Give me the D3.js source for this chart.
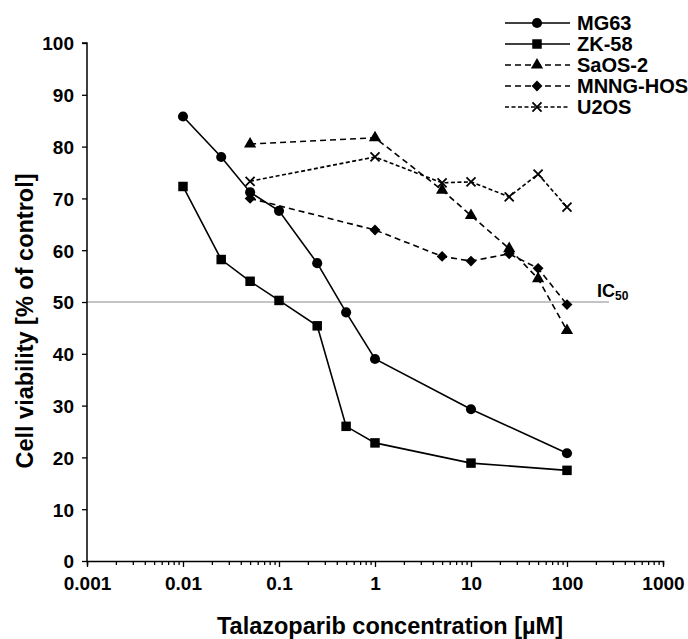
<!DOCTYPE html>
<html><head><meta charset="utf-8">
<script src="https://cdn.jsdelivr.net/npm/d3@7"></script>
<style>body{margin:0;background:#fff}svg{display:block;font-family:"Liberation Sans",Arial,sans-serif}</style>
</head><body><svg id="c" width="688" height="639"></svg>
<script>
const seriesNames = ["MG63","ZK-58","SaOS-2","MNNG-HOS","U2OS"];
const concMG63 = [0.01,0.025,0.05,0.1,0.25,0.5,1,10,100];
const valMG63  = [85.8,78.0,71.2,67.6,57.5,48.0,39.0,29.3,20.8];
const concZK58 = [0.01,0.025,0.05,0.1,0.25,0.5,1,10,100];
const valZK58  = [72.3,58.2,54.0,50.3,45.4,26.0,22.8,18.9,17.5];
const concSaOS2 = [0.05,1,5,10,25,50,100];
const valSaOS2  = [80.5,81.7,71.6,66.7,60.3,54.5,44.5];
const concMNNG = [0.05,1,5,10,25,50,100];
const valMNNG  = [70.0,63.9,58.8,57.9,59.3,56.5,49.5];
const concU2OS = [0.05,1,5,10,25,50,100];
const valU2OS  = [73.3,78.0,73.0,73.2,70.3,74.7,68.3];
const xTicks = [0.001,0.01,0.1,1,10,100,1000];
const xTickLabels = ["0.001","0.01","0.1","1","10","100","1000"];
const yTicks = [0,10,20,30,40,50,60,70,80,90,100];
const ic50 = 50;

const svg = d3.select("#c");
const x = d3.scaleLog().domain([0.001,1000]).range([87,663]);
const y = d3.scaleLinear().domain([0,100]).range([561,43]);

const diamond = {draw(ctx,size){const r=Math.sqrt(size)/2*1.4;ctx.moveTo(0,-r);ctx.lineTo(r,0);ctx.lineTo(0,r);ctx.lineTo(-r,0);ctx.closePath();}};
const series = [
  {name:"MG63", c:concMG63, v:valMG63, dash:null, sym:d3.symbolCircle, size:80},
  {name:"ZK-58", c:concZK58, v:valZK58, dash:null, sym:d3.symbolSquare, size:90},
  {name:"SaOS-2", c:concSaOS2, v:valSaOS2, dash:"6,4", sym:d3.symbolTriangle, size:65},
  {name:"MNNG-HOS", c:concMNNG, v:valMNNG, dash:"6,4", sym:diamond, size:60},
  {name:"U2OS", c:concU2OS, v:valU2OS, dash:"4,2.5", sym:d3.symbolTimes, size:55}
];

// IC50 line
svg.append("line").attr("x1",x(0.001)).attr("x2",609).attr("y1",y(ic50)).attr("y2",y(ic50))
  .attr("stroke","#b0b0b0").attr("stroke-width",1.5);
const ict = svg.append("text").attr("x",597).attr("y",y(ic50)-5).attr("font-weight","bold").attr("font-size",18).attr("fill","#000");
ict.append("tspan").text("IC");
ict.append("tspan").attr("font-size",12).attr("dy",3).text("50");

// Axes
const yAxis = d3.axisLeft(y).tickValues(yTicks).tickSize(5).tickPadding(8);
const gy = svg.append("g").attr("transform",`translate(${x(0.001)},0)`).call(yAxis);
const minor = [];
for (let e=-3;e<3;e++) for (let k=1;k<10;k++) minor.push(k*Math.pow(10,e));
minor.push(1000);
const xAxis = d3.axisBottom(x).tickValues(minor).tickSize(4)
  .tickFormat(d => { const i = xTicks.findIndex(t=>Math.abs(t-d)/t<1e-9); return i>=0?xTickLabels[i]:""; }).tickPadding(12);
const gx = svg.append("g").attr("transform",`translate(0,${y(0)})`).call(xAxis);
gx.selectAll(".tick line").attr("y2", d => xTicks.some(t=>Math.abs(t-d)/t<1e-9)?6:4);
[gx,gy].forEach(g=>{
  g.select(".domain").attr("stroke","#000").attr("stroke-width",1.5);
  g.selectAll(".tick line").attr("stroke","#000").attr("stroke-width",1.3);
  g.selectAll(".tick text").attr("font-family","Liberation Sans, Arial, sans-serif").attr("font-size",19).attr("font-weight","bold").attr("fill","#000");
});
gy.select(".domain").attr("d",`M-5,${y(100)}H0V${y(0)}`);
gy.selectAll(".tick text").attr("dy","0.36em");

// Axis titles
svg.append("text").attr("x",390).attr("y",634).attr("text-anchor","middle").attr("font-size",23.5).attr("font-weight","bold").text("Talazoparib concentration [µM]");
svg.append("text").attr("transform",`translate(33,321) rotate(-90)`).attr("text-anchor","middle").attr("font-size",23.5).attr("font-weight","bold").text("Cell viability [% of control]");

// Series
const line = d3.line().x(d=>x(d[0])).y(d=>y(d[1]));
series.forEach(s=>{
  const pts = s.c.map((c,i)=>[c,s.v[i]]);
  svg.append("path").attr("d",line(pts)).attr("fill","none").attr("stroke","#000").attr("stroke-width",1.6)
    .attr("stroke-dasharray",s.dash);
  const sym = d3.symbol().type(s.sym).size(s.size);
  svg.selectAll(null).data(pts).enter().append("path").attr("d",sym)
    .attr("transform",d=>`translate(${x(d[0])},${y(d[1])})`)
    .attr("fill", s.sym===d3.symbolTimes?"none":"#000").attr("stroke","#000").attr("stroke-width",s.sym===d3.symbolTimes?1.8:0);
});

// Legend
const legY0 = 23, legStep = 21;
series.forEach((s,i)=>{
  const g = svg.append("g").attr("transform",`translate(0,${legY0+i*legStep})`);
  g.append("line").attr("x1",505).attr("x2",570).attr("stroke","#000").attr("stroke-width",1.6).attr("stroke-dasharray",s.dash);
  g.append("path").attr("d",d3.symbol().type(s.sym).size(s.size)).attr("transform","translate(537,0)")
    .attr("fill", s.sym===d3.symbolTimes?"none":"#000").attr("stroke","#000").attr("stroke-width",s.sym===d3.symbolTimes?1.8:0);
  g.append("text").attr("x",577).attr("y",7).attr("font-size",20).attr("font-weight","bold").text(s.name);
});
</script></body></html>
